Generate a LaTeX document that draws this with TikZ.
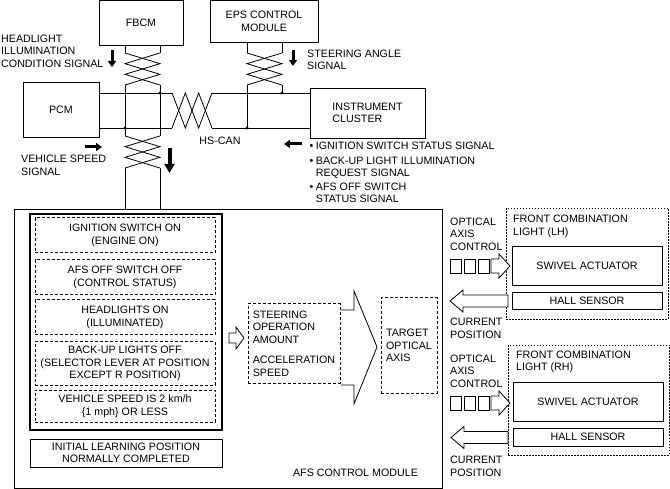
\documentclass[tikz,border=0pt]{standalone}
\usepackage{fontspec}
\setmainfont{Liberation Sans}
\usetikzlibrary{arrows.meta}
\newcommand\dfont{\fontsize{10.7}{12.5}\selectfont}
\newcommand\vtwist[4]{%
  \pgfmathsetmacro\twA{#3+(#4-#3)/3}\pgfmathsetmacro\twB{#3+2*(#4-#3)/3}%
  \draw[wire] (#1,#3) -- (#2,\twA) -- (#1,\twB) -- (#2,#4);
  \draw[wire] (#2,#3) -- (#1,\twA) -- (#2,\twB) -- (#1,#4);}
\newcommand\htwist[4]{%
  \pgfmathsetmacro\twA{#3+(#4-#3)/3}\pgfmathsetmacro\twB{#3+2*(#4-#3)/3}%
  \draw[wire] (#3,#1) -- (\twA,#2) -- (\twB,#1) -- (#4,#2);
  \draw[wire] (#3,#2) -- (\twA,#1) -- (\twB,#2) -- (#4,#1);}
\begin{document}
\begin{tikzpicture}[x=1pt,y=-1pt,
  every node/.style={font=\dfont, inner sep=0pt, text=black},
  blk/.style={draw, line width=0.8pt, align=center},
  cond/.style={draw, line width=1pt, dash pattern=on 3pt off 2pt, align=center, minimum width=180pt},
  lightbox/.style={draw, line width=0.6pt, dash pattern=on 1.5pt off 1.5pt},
  txt/.style={align=left, anchor=west},
  wire/.style={line width=0.8pt},
  dot/.style={circle, fill, inner sep=0pt, minimum size=3.2pt},
  heavy/.style={line width=3pt, -{Triangle[length=6pt,width=8pt]}},
  heavier/.style={line width=4pt, -{Triangle[length=9pt,width=10pt]}},
  hollow/.style={draw, line width=0.8pt, fill=white, line join=miter},
  sq/.style={draw, line width=0.7pt, minimum width=11pt, minimum height=14pt},
]
\useasboundingbox (0,0) rectangle (670,489);

% ---------- top modules ----------
\node[blk, minimum width=84pt, minimum height=44.5pt] (fbcm) at (141,22.75) {FBCM};
\node[blk, minimum width=108pt, minimum height=41.5pt] (eps) at (264,21.25) {EPS CONTROL\\MODULE};
\node[blk, minimum width=76pt, minimum height=55pt] (pcm) at (61,109.5) {PCM};
\node[blk, minimum width=115pt, minimum height=50pt, align=left] (ic) at (367.5,113) {INSTRUMENT\\CLUSTER};

% ---------- AFS control module frame ----------
\node[draw, line width=0.8pt, minimum width=428pt, minimum height=279pt] (afs) at (228,348.5) {};
\node (afslbl) at (355.5,473) {AFS CONTROL MODULE};

% ---------- wiring ----------
% FBCM pair
\draw[wire] (125,0 |- fbcm.south) -- (125,53);
\draw[wire] (160,0 |- fbcm.south) -- (160,53);
\vtwist{125}{160}{53}{85}
\draw[wire] (125,85) -- (125,136);
\draw[wire] (160,85) -- (160,136);
\vtwist{125}{160}{136}{168}
\draw[wire] (125,168) -- (125,0 |- afs.north);
\draw[wire] (160,168) -- (160,0 |- afs.north);
% EPS pair
\draw[wire] (247,0 |- eps.south) -- (247,53);
\draw[wire] (282,0 |- eps.south) -- (282,53);
\vtwist{247}{282}{53}{85}
\draw[wire] (247,85) -- (247,128);
\draw[wire] (282,85) -- (282,93);
% HS-CAN bus
\draw[wire] (pcm.east |- 0,93) -- (172,93);
\draw[wire] (pcm.east |- 0,128) -- (172,128);
\htwist{93}{128}{172}{212}
\draw[wire] (212,93) -- (ic.west |- 0,93);
\draw[wire] (212,128) -- (ic.west |- 0,128);
\node[dot] (j1) at (160,93) {};
\node[dot] (j2) at (125,128) {};
\node[dot] (j3) at (282,93) {};
\node[dot] (j4) at (247,128) {};
\node (hscan) at (220,141) {HS-CAN};

% ---------- signal arrows ----------
\coordinate (h1s) at (112,50); \coordinate (h1e) at (112,67);
\draw[heavy] (h1s) -- (h1e);
\coordinate (h2s) at (293,50); \coordinate (h2e) at (293,66);
\draw[heavy] (h2s) -- (h2e);
\coordinate (h3s) at (169.5,148); \coordinate (h3e) at (169.5,173);
\draw[heavier] (h3s) -- (h3e);
\coordinate (h4s) at (85,147); \coordinate (h4e) at (102,147);
\draw[heavy] (h4s) -- (h4e);
\coordinate (h5s) at (302,144); \coordinate (h5e) at (284,144);
\draw[heavy] (h5s) -- (h5e);

% ---------- signal texts ----------
\node[txt] (hl) at (1,51) {HEADLIGHT\\ILLUMINATION\\CONDITION SIGNAL};
\node[txt] (sa) at (307,60) {STEERING ANGLE\\SIGNAL};
\node[txt] (vs) at (21,165.5) {VEHICLE SPEED\\SIGNAL};
\node[anchor=north west, align=left] (sig) at (309.5,141.4) {\fontsize{10.7}{12}\selectfont
  \begin{tabular}{@{}l@{\hspace{2.5pt}}l@{}}
  \textbullet & IGNITION SWITCH STATUS SIGNAL\\[3pt]
  \textbullet & BACK-UP LIGHT ILLUMINATION\\
              & REQUEST SIGNAL\\[2pt]
  \textbullet & AFS OFF SWITCH\\
              & STATUS SIGNAL
  \end{tabular}};

% ---------- conditions ----------
\node[draw, line width=1.3pt, minimum width=192pt, minimum height=216pt] (condgrp) at (126,322) {};
\node[cond, minimum height=35pt] (c1) at (125,235.5) {IGNITION SWITCH ON\\(ENGINE ON)};
\node[cond, minimum height=35pt] (c2) at (125,277.5) {AFS OFF SWITCH OFF\\(CONTROL STATUS)};
\node[cond, minimum height=35pt] (c3) at (125,317.5) {HEADLIGHTS ON\\(ILLUMINATED)};
\node[cond, minimum height=43pt] (c4) at (125,363.5) {BACK-UP LIGHTS OFF\\(SELECTOR LEVER AT POSITION\\EXCEPT R POSITION)};
\node[cond, minimum height=32pt] (c5) at (125,406) {VEHICLE SPEED IS 2 km/h\\\{1 mph\} OR LESS};
\node[blk, line width=1pt, minimum width=192pt, minimum height=28pt] (ilp) at (126,453) {INITIAL LEARNING POSITION\\NORMALLY COMPLETED};

% ---------- processing ----------
\draw[hollow] (229,333) -- (236,333) -- (236,327) -- (244,338) -- (236,349) -- (236,343) -- (229,343) -- cycle;
\node[cond, minimum width=92pt, minimum height=79pt, align=left] (steer) at (294,343.5)
  {STEERING\\OPERATION\\AMOUNT\\[8pt]ACCELERATION\\SPEED};
\draw[line width=0.8pt, line join=miter] (341,310) -- (354,310) -- (354,291) -- (377,347) -- (354,404) -- (354,385) -- (341,385);
\node[cond, minimum width=56pt, minimum height=95pt, align=left] (target) at (409,345.5) {TARGET\\OPTICAL\\AXIS};

% ---------- front combination light LH ----------
\node[lightbox, minimum width=162pt, minimum height=111pt] (lh) at (587,263.5) {};
\node[txt] (lhl) at (513,226.5) {FRONT COMBINATION\\LIGHT (LH)};
\node[blk, minimum width=150pt, minimum height=39pt] (swl) at (587,265.5) {SWIVEL ACTUATOR};
\node[blk, minimum width=150pt, minimum height=17pt] (hsl) at (587,300.5) {HALL SENSOR};
\node[txt] (oacl) at (450,234) {OPTICAL\\AXIS\\CONTROL};
\node[txt] (cpl) at (450,328.5) {CURRENT\\POSITION};
\node[sq] (sl1) at (456,266) {};
\node[sq] (sl2) at (470,266) {};
\node[sq] (sl3) at (484,266) {};
\draw[hollow] (491,259) -- (499,259) -- (499,254) -- (510,266) -- (499,278) -- (499,273) -- (491,273) -- cycle;
\draw[hollow] (508,295) -- (463,295) -- (463,290) -- (450,301) -- (463,312) -- (463,307) -- (508,307) -- cycle;

% ---------- front combination light RH ----------
\node[lightbox, minimum width=161pt, minimum height=110pt] (rh) at (588.5,400) {};
\node[txt] (rhl) at (516,362) {FRONT COMBINATION\\LIGHT (RH)};
\node[blk, minimum width=150pt, minimum height=39pt] (swr) at (588,401.5) {SWIVEL ACTUATOR};
\node[blk, minimum width=150pt, minimum height=18pt] (hsr) at (588,437) {HALL SENSOR};
\node[txt] (oacr) at (450,371) {OPTICAL\\AXIS\\CONTROL};
\node[txt] (cpr) at (450,466.5) {CURRENT\\POSITION};
\node[sq] (sr1) at (456,403) {};
\node[sq] (sr2) at (470,403) {};
\node[sq] (sr3) at (484,403) {};
\draw[hollow] (491,396) -- (499,396) -- (499,391) -- (510,403) -- (499,415) -- (499,410) -- (491,410) -- cycle;
\draw[hollow] (508,431.5) -- (464,431.5) -- (464,426.5) -- (451,437.5) -- (464,448.5) -- (464,443.5) -- (508,443.5) -- cycle;
\end{tikzpicture}
\end{document}
